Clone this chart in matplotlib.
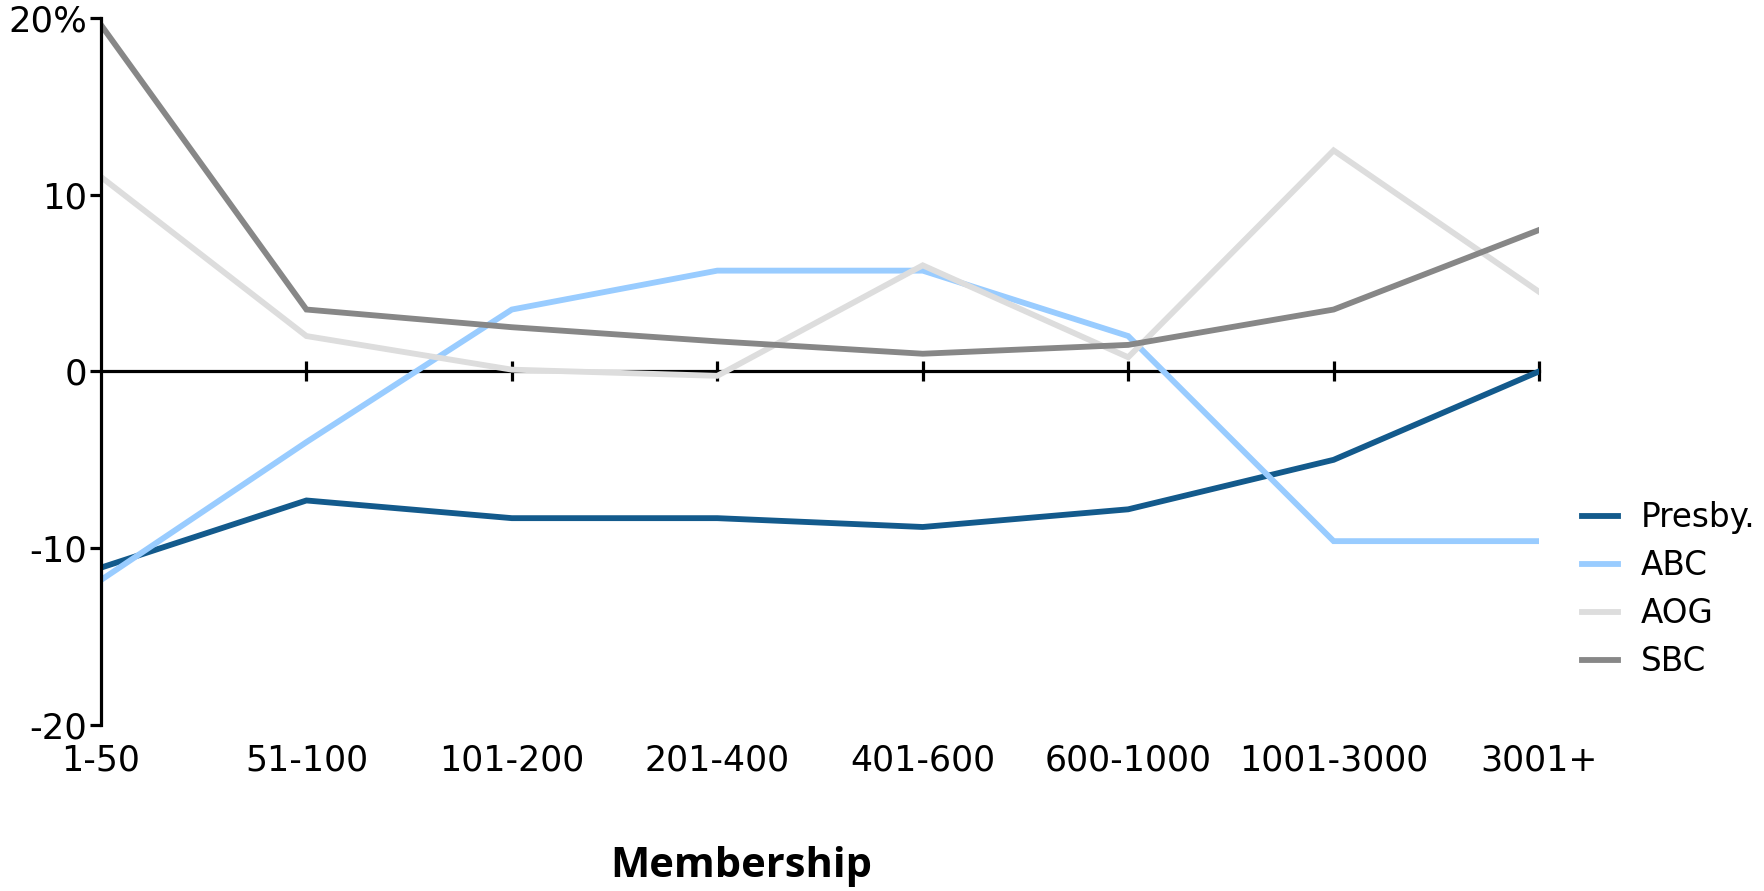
import matplotlib.pyplot as plt
from matplotlib.ticker import FixedLocator

# membership size groups
categories = ['1-50', '51-100', '101-200', '201-400', '401-600', '600-1000', '1001-3000', '3001+']

# percent change per denomination
presby = [-11.1, -7.3, -8.3, -8.3, -8.8, -7.8, -5.0, 0.0]
abc = [-11.8, -4.0, 3.5, 5.7, 5.7, 2.0, -9.6, -9.6]
aog = [11.0, 2.0, 0.1, -0.25, 6.0, 0.8, 12.5, 4.5]
sbc = [19.6, 3.5, 2.5, 1.7, 1.0, 1.5, 3.5, 8.0]

series_names = ['Presby.', 'ABC', 'AOG', 'SBC']
series_colors = ['#135a8c', '#99ccff', '#dddddd', '#878787']

y_ticks = [-20, -10, 0, 10, 20]
y_tick_labels = ['-20', '-10', '0', '10', '20%']

plt.rcParams['font.family'] = ['DejaVu Sans']

fig = plt.figure(figsize=(17.65, 8.91), dpi=100)
ax = fig.add_axes([0.0572, 0.1863, 0.8148, 0.7937])

x = list(range(len(categories)))
for vals, name, col in zip([presby, abc, aog, sbc], series_names, series_colors):
    ax.plot(x, vals, color=col, lw=4.2, label=name, solid_joinstyle='miter')

ax.set_xlim(0, len(categories) - 1)
ax.set_ylim(-20, 20)

# y axis
ax.spines['top'].set_visible(False)
ax.spines['right'].set_visible(False)
ax.spines['bottom'].set_visible(False)
ax.spines['left'].set_linewidth(2.3)
ax.set_yticks(y_ticks)
ax.set_yticklabels(y_tick_labels)
ax.tick_params(axis='y', direction='out', length=8, width=2.3, labelsize=25.5, pad=2)

# category labels at the bottom, no tick marks
ax.set_xticks(x)
ax.set_xticklabels(categories)
ax.tick_params(axis='x', length=0, labelsize=25, pad=13)

# zero line with crossing ticks
zero = ax.secondary_xaxis(0.5)
for sp in zero.spines.values():
    sp.set_linewidth(2.3)
zero.xaxis.set_major_locator(FixedLocator(x[1:]))
zero.tick_params(axis='x', direction='inout', length=15, width=2.3,
                 labeltop=False, labelbottom=False)

leg = ax.legend(loc='upper left', bbox_to_anchor=(1.021, 0.335), frameon=False,
                fontsize=23.5, handlelength=1.1, handletextpad=0.7, labelspacing=0.46,
                borderaxespad=0)

fig.text(0.42, 0.027, 'Membership', fontsize=30, fontweight='bold',
         family=['Open Sans', 'DejaVu Sans'], ha='center', va='center')

fig.savefig('out.png', dpi=100)
